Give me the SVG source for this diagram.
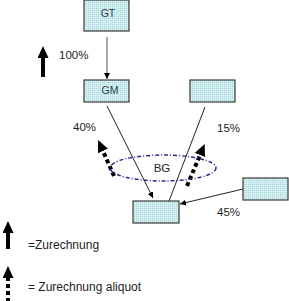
<svg xmlns="http://www.w3.org/2000/svg" width="289" height="301" viewBox="0 0 289 301">
<style>
.box{fill:#c8ebf0;stroke:#3a3a3a;stroke-width:1.2}
.lbl{font-family:"Liberation Sans",Arial,sans-serif;font-size:11.5px;fill:#222}
.blbl{font-family:"Liberation Sans",Arial,sans-serif;font-size:10.5px;fill:#2f3f4a;text-anchor:middle}
.thin{stroke:#222;stroke-width:1;fill:none}
.thick{stroke:#000;stroke-width:4;fill:none}
.dotted{stroke:#000;stroke-width:4;fill:none;stroke-dasharray:4 3}
</style>
<defs>
<pattern id="dots" width="2" height="2" patternUnits="userSpaceOnUse">
<rect width="2" height="2" fill="#d4f0f3"/>
<rect width="1" height="1" fill="#a9d2d8"/>
</pattern>
<marker id="small" markerUnits="userSpaceOnUse" markerWidth="6" markerHeight="6" refX="6" refY="3" orient="auto">
<path d="M0,0 L6,3 L0,6 z" fill="#000"/>
</marker>
<marker id="big" markerUnits="userSpaceOnUse" markerWidth="12" markerHeight="11" refX="0" refY="5.5" orient="auto">
<path d="M0,0 L12,5.5 L0,11 z" fill="#000"/>
</marker>
</defs>
<g id="connectors">
<line class="thin" x1="107" y1="37" x2="107" y2="79" marker-end="url(#small)" style="stroke:#555"/>
<line class="thin" x1="107" y1="106" x2="153" y2="198" marker-end="url(#small)"/>
<line class="thin" x1="205" y1="107" x2="169" y2="201"/>
<line class="thin" x1="243" y1="189" x2="180" y2="204" marker-end="url(#small)"/>
<line class="thick" x1="43" y1="77" x2="43" y2="58" marker-end="url(#big)"/>
<line class="dotted" x1="114" y1="176" x2="103" y2="151" marker-end="url(#big)"/>
<line class="dotted" x1="187" y1="186" x2="200" y2="155" marker-end="url(#big)"/>
<line class="thick" x1="8" y1="249" x2="8" y2="233" marker-end="url(#big)"/>
<line class="dotted" x1="8" y1="301" x2="8" y2="278" marker-end="url(#big)" style="stroke-dasharray:4 3;stroke-dashoffset:1"/>
</g>
<g id="BG">
<ellipse cx="163" cy="168" rx="53" ry="13" fill="none" stroke="#2a2a90" stroke-width="1.5" stroke-dasharray="4 2 1 2"/>
<text class="lbl" x="162" y="172" text-anchor="middle">BG</text>
</g>
<g id="GT">
<rect class="box" x="84" y="0" width="45" height="31" fill="url(#dots)" style="fill:url(#dots)"/>
<text class="blbl" x="108" y="17">GT</text>
</g>
<g id="GM">
<rect class="box" x="84" y="80" width="45" height="22" style="fill:url(#dots)"/>
<text class="blbl" x="110" y="94">GM</text>
</g>
<g id="box_right_top">
<rect class="box" x="190" y="80" width="45" height="22" style="fill:url(#dots)"/>
</g>
<g id="box_bottom">
<rect class="box" x="133" y="201" width="46" height="22" style="fill:url(#dots)"/>
</g>
<g id="box_right_lower">
<rect class="box" x="243" y="178" width="45" height="22" style="fill:url(#dots)"/>
</g>
<g id="labels">
<text class="lbl" x="59" y="59">100%</text>
<text class="lbl" x="73" y="131">40%</text>
<text class="lbl" x="217" y="132">15%</text>
<text class="lbl" x="217" y="216">45%</text>
<text class="lbl" x="28" y="249" style="font-size:12px">=Zurechnung</text>
<text class="lbl" x="28" y="291" style="font-size:12px">= Zurechnung aliquot</text>
</g>
</svg>
